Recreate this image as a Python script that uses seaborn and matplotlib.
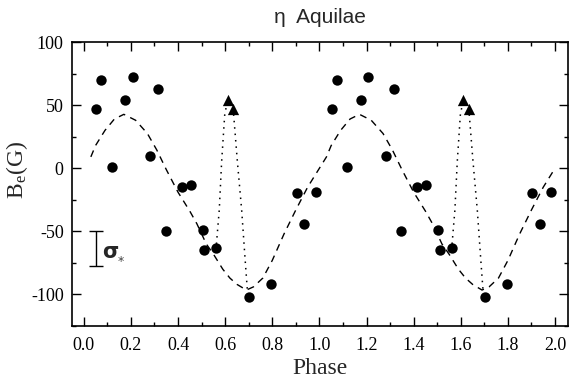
import numpy as np
import pandas as pd
import matplotlib
matplotlib.use("Agg")
import matplotlib.pyplot as plt
import seaborn as sns

# ---- data (one rotation phase, repeated for phase + 1) ----
obs_phase = [0.054, 0.074, 0.119, 0.176, 0.207, 0.283, 0.317, 0.348, 0.416,
             0.454, 0.504, 0.510, 0.563, 0.701, 0.795, 0.903, 0.936, 0.984]
obs_b = [47, 70, 1, 54, 72, 10, 63, -50, -15, -13, -49, -65, -63, -102, -92,
         -20, -44, -19]

tri_phase = [0.610, 0.634]
tri_b = [54, 47]

fit_phase = [0.03, 0.05, 0.09, 0.13, 0.17, 0.22, 0.27, 0.31, 0.35, 0.40, 0.45,
             0.48, 0.52, 0.55, 0.59, 0.62, 0.65, 0.69, 0.72, 0.76, 0.80, 0.85,
             0.90, 0.95, 0.99]
fit_b = [9, 18, 30, 39, 42.7, 38, 27.5, 14.4, -1, -19, -34, -44, -60, -68, -80,
         -87, -92, -96.5, -94, -87, -73, -52, -33, -15, -3]

spike_phase = [0.563, 0.575, 0.585, 0.598, 0.610, 0.634, 0.652, 0.670, 0.685, 0.694]
spike_b = [-60, -33, 5, 42, 54, 47, 5, -33, -73, -96]

sigma_phase = 0.05
sigma_center = -63.75
sigma_half = 13.75

x_ticks = [0.0, 0.2, 0.4, 0.6, 0.8, 1.0, 1.2, 1.4, 1.6, 1.8, 2.0]
y_ticks = [-100, -50, 0, 50, 100]

title = "η  Aquilae"
xlabel = "Phase"
ylabel = r"B$_\mathregular{e}$(G)"

cycles = [0, 1]

obs = pd.DataFrame({
    "phase": np.concatenate([np.array(obs_phase) + c for c in cycles]),
    "B": np.tile(obs_b, len(cycles)),
})
tri = pd.DataFrame({
    "phase": np.concatenate([np.array(tri_phase) + c for c in cycles]),
    "B": np.tile(tri_b, len(cycles)),
})
fit = pd.DataFrame({
    "phase": np.concatenate([np.array(fit_phase) + c for c in cycles]),
    "B": np.tile(fit_b, len(cycles)),
})

# ---- style ----
sns.set_style("ticks")
plt.rcParams["font.family"] = ["Liberation Serif", "DejaVu Serif"]
plt.rcParams["mathtext.fontset"] = "stix"

fig = plt.figure(figsize=(5.7, 3.83), dpi=100)
ax = fig.add_axes([0.1263, 0.1488, 0.8702, 0.7415])

sns.lineplot(data=fit, x="phase", y="B", ax=ax, color="black", lw=1.0,
             linestyle=(0, (5, 4)), sort=False, estimator=None)
for c in cycles:
    sp = pd.DataFrame({"phase": np.array(spike_phase) + c, "B": spike_b})
    sns.lineplot(data=sp, x="phase", y="B", ax=ax, color="black", lw=1.1,
                 linestyle=(0, (1, 3.2)), sort=False, estimator=None)

sns.scatterplot(data=obs, x="phase", y="B", ax=ax, color="black", s=56,
                marker="o", edgecolor="black", linewidth=0, zorder=3)
sns.scatterplot(data=tri, x="phase", y="B", ax=ax, color="black", s=66,
                marker="^", edgecolor="black", linewidth=0, zorder=3)

# sigma error bar
ax.errorbar([sigma_phase], [sigma_center], yerr=[sigma_half], fmt="none",
            ecolor="black", elinewidth=1.0, capsize=4.8, capthick=1.0)
ax.text(0.08, sigma_center - 3, "σ", fontsize=15, fontweight="bold",
        family="DejaVu Sans", ha="left", va="center")
ax.text(0.158, sigma_center - 10, "*", fontsize=9, color="#444444",
        family="DejaVu Sans", ha="center", va="center")

ax.set_xlim(-0.05, 2.055)
ax.set_ylim(-125, 100)
ax.set_xticks(x_ticks)
ax.set_xticklabels([f"{t:.1f}" for t in x_ticks])
ax.set_yticks(y_ticks)
ax.set_yticklabels([str(t) for t in y_ticks])
ax.set_xticks(np.arange(-0.0, 2.05, 0.1), minor=True)
ax.set_yticks(np.arange(-125, 101, 25), minor=True)

for s in ax.spines.values():
    s.set_visible(True)
    s.set_linewidth(1.2)
    s.set_color("black")

ax.tick_params(which="both", direction="in", top=True, right=True,
               labelsize=13, colors="black", width=1.0)
ax.tick_params(which="major", length=6.5)
ax.tick_params(axis="x", which="major", pad=8)
ax.tick_params(axis="y", which="major", pad=6)
ax.tick_params(which="minor", length=3)

ax.set_xlabel(xlabel, fontsize=17, labelpad=3)
ax.set_ylabel(ylabel, fontsize=17)
ax.yaxis.set_label_coords(-0.085, 0.55)
ax.set_title(title, fontsize=15, family="Liberation Sans", pad=14)

fig.savefig("out.png", dpi=100)
